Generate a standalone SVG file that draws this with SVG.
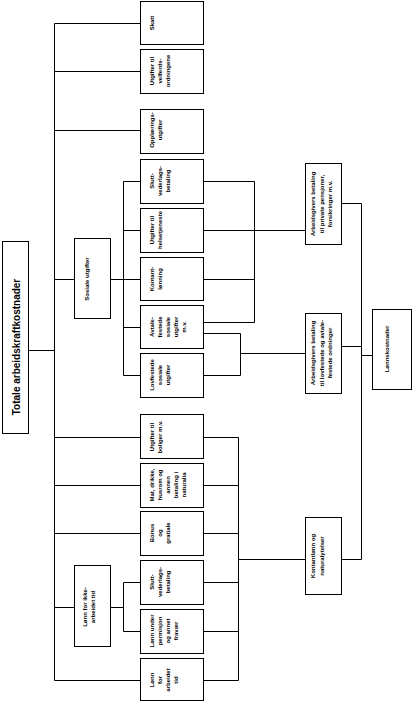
<svg xmlns="http://www.w3.org/2000/svg" width="413" height="702" viewBox="0 0 413 702">
<style>
.box{fill:#fff;stroke:#000;stroke-width:1}
.con path{fill:none;stroke:#000;stroke-width:1}
text{font-family:"Liberation Sans",Arial,sans-serif;font-weight:bold;font-size:6px;fill:#000;text-anchor:middle}
.root text{font-size:10px}
</style>
<rect width="413" height="702" fill="#fff"/>
<g class="con">
<path d="M28,350.5H54.5M54.5,23.5V680.5M54.5,23.5H140M54.5,71.5H140M54.5,130.5H140M54.5,279.5H74M54.5,437.5H140M54.5,485.5H140M54.5,533.5H140M54.5,607.5H74M54.5,680.5H140"/>
<path d="M110,279.5H123.5M123.5,181.5V375.5M123.5,181.5H140M123.5,230.5H140M123.5,279.5H140M123.5,327.5H140M123.5,375.5H140"/>
<path d="M110,607.5H123.5M123.5,582.5V631.5M123.5,582.5H140M123.5,631.5H140"/>
<path d="M203,181.5H254.5M203,279.5H254.5M203,322.5H254.5M254.5,181.5V322.5M203,230.5H305"/>
<path d="M203,333.5H240.5M203,375.5H240.5M240.5,333.5V375.5M240.5,353.5H305"/>
<path d="M203,437.5H238.5M203,485.5H238.5M203,533.5H238.5M203,582.5H238.5M203,631.5H238.5M203,680.5H238.5M238.5,437.5V680.5M238.5,559.5H305"/>
<path d="M341,203.5H361.5M341,346.5H361.5M341,559.5H361.5M361.5,203.5V559.5M361.5,355.5H372"/>
</g>
<g id="root" class="root"><rect class="box" x="2.5" y="241.5" width="26" height="192"/><text transform="translate(19.5,347) rotate(-90)">Totale arbeidskraftkostnader</text></g>
<g id="skatt"><rect class="box" x="140.5" y="1.5" width="63" height="43"/><text transform="translate(153.5,23) rotate(-90)">Skatt</text></g>
<g id="velferd"><rect class="box" x="140.5" y="49.5" width="63" height="44"/><text transform="translate(153.5,71) rotate(-90)"><tspan x="0">Utgifter til</tspan><tspan x="0" dy="8">velferds-</tspan><tspan x="0" dy="8">ordningene</tspan></text></g>
<g id="opplaering"><rect class="box" x="140.5" y="109.5" width="63" height="44"/><text transform="translate(153.5,130) rotate(-90)"><tspan x="0">Opplærings-</tspan><tspan x="0" dy="8">utgifter</tspan></text></g>
<g id="sosiale"><rect class="box" x="74.5" y="238.5" width="36" height="80"/><text transform="translate(89,279) rotate(-90)">Sosiale utgifter</text></g>
<g id="slutt1"><rect class="box" x="140.5" y="159.5" width="63" height="44"/><text transform="translate(153.5,181) rotate(-90)"><tspan x="0">Slutt-</tspan><tspan x="0" dy="8">vederlags-</tspan><tspan x="0" dy="8">betaling</tspan></text></g>
<g id="helse"><rect class="box" x="140.5" y="208.5" width="63" height="44"/><text transform="translate(153.5,230) rotate(-90)"><tspan x="0">Utgifter til</tspan><tspan x="0" dy="8">helsetjeneste</tspan></text></g>
<g id="kontant"><rect class="box" x="140.5" y="257.5" width="63" height="43"/><text transform="translate(153.5,279) rotate(-90)"><tspan x="0">Kontant-</tspan><tspan x="0" dy="8">lønning</tspan></text></g>
<g id="avtale"><rect class="box" x="140.5" y="305.5" width="63" height="43"/><text transform="translate(153.5,327) rotate(-90)"><tspan x="0">Avtale-</tspan><tspan x="0" dy="8">festede</tspan><tspan x="0" dy="8">sosiale</tspan><tspan x="0" dy="8">utgifter</tspan><tspan x="0" dy="8">m.v.</tspan></text></g>
<g id="lov"><rect class="box" x="140.5" y="353.5" width="63" height="44"/><text transform="translate(153.5,375) rotate(-90)"><tspan x="0">Lovfestede</tspan><tspan x="0" dy="8">sosiale</tspan><tspan x="0" dy="8">utgifter</tspan></text></g>
<g id="boliger"><rect class="box" x="140.5" y="414.5" width="63" height="44"/><text transform="translate(153.5,437) rotate(-90)"><tspan x="0">Utgifter til</tspan><tspan x="0" dy="8">boliger m.v.</tspan></text></g>
<g id="mat"><rect class="box" x="140.5" y="463.5" width="63" height="44"/><text transform="translate(153.5,485) rotate(-90)"><tspan x="0">Mat, drikke,</tspan><tspan x="0" dy="8">husrom og</tspan><tspan x="0" dy="8">annen</tspan><tspan x="0" dy="8">betaling i</tspan><tspan x="0" dy="8">naturalia</tspan></text></g>
<g id="bonus"><rect class="box" x="140.5" y="511.5" width="63" height="44"/><text transform="translate(153.5,533) rotate(-90)"><tspan x="0">Bonus</tspan><tspan x="0" dy="8">og</tspan><tspan x="0" dy="8">gratiale</tspan></text></g>
<g id="ikkearbeidet"><rect class="box" x="74.5" y="565.5" width="36" height="81"/><text transform="translate(87,607) rotate(-90)"><tspan x="0">Lønn for ikke-</tspan><tspan x="0" dy="8">arbeidet tid</tspan></text></g>
<g id="slutt2"><rect class="box" x="140.5" y="560.5" width="63" height="44"/><text transform="translate(153.5,582) rotate(-90)"><tspan x="0">Slutt-</tspan><tspan x="0" dy="8">vederlags-</tspan><tspan x="0" dy="8">betaling</tspan></text></g>
<g id="permisjon"><rect class="box" x="140.5" y="609.5" width="63" height="44"/><text transform="translate(153.5,631) rotate(-90)"><tspan x="0">Lønn under</tspan><tspan x="0" dy="8">permisjon</tspan><tspan x="0" dy="8">og annet</tspan><tspan x="0" dy="8">fravær</tspan></text></g>
<g id="arbeidet"><rect class="box" x="140.5" y="658.5" width="63" height="42"/><text transform="translate(153.5,680) rotate(-90)"><tspan x="0">Lønn</tspan><tspan x="0" dy="8">for</tspan><tspan x="0" dy="8">arbeidet</tspan><tspan x="0" dy="8">tid</tspan></text></g>
<g id="privat"><rect class="box" x="305.5" y="163.5" width="36" height="81"/><text transform="translate(315,204) rotate(-90)"><tspan x="0">Arbeidsgivers betaling</tspan><tspan x="0" dy="8.5">til private pensjoner,</tspan><tspan x="0" dy="8.5">forsikringer m.v.</tspan></text></g>
<g id="lovavtale"><rect class="box" x="305.5" y="313.5" width="36" height="80"/><text transform="translate(315,353) rotate(-90)"><tspan x="0">Arbeidsgivers betaling</tspan><tspan x="0" dy="8.5">til lovfestede og avtale-</tspan><tspan x="0" dy="8.5">festede ordninger</tspan></text></g>
<g id="kontantlonn"><rect class="box" x="305.5" y="517.5" width="36" height="77"/><text transform="translate(315,556) rotate(-90)"><tspan x="0">Kontantlønn og</tspan><tspan x="0" dy="8.5">naturalytelser</tspan></text></g>
<g id="lonnskostnader"><rect class="box" x="372.5" y="309.5" width="39" height="80"/><text transform="translate(389,349) rotate(-90)">Lønnskostnader</text></g>
</svg>
